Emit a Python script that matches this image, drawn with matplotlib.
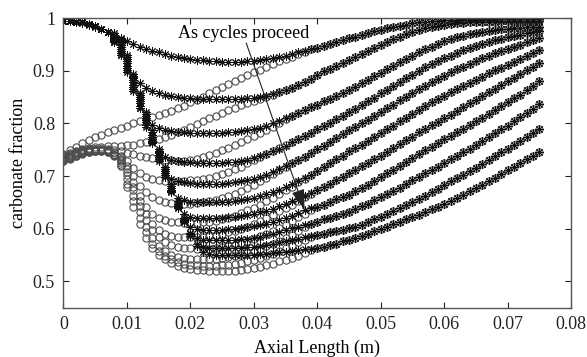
import matplotlib
matplotlib.use('Agg')
import matplotlib.pyplot as plt

plt.rcParams['font.family'] = ['Liberation Serif', 'DejaVu Serif']

# axial positions (m): first 40 (0..0.039) are the "head" region, last 36 (0.040..0.075) the shared "tail"
axial_pos = [0.000, 0.001, 0.002, 0.003, 0.004, 0.005, 0.006, 0.007, 0.008, 0.009,
             0.010, 0.011, 0.012, 0.013, 0.014, 0.015, 0.016, 0.017, 0.018, 0.019,
             0.020, 0.021, 0.022, 0.023, 0.024, 0.025, 0.026, 0.027, 0.028, 0.029,
             0.030, 0.031, 0.032, 0.033, 0.034, 0.035, 0.036, 0.037, 0.038, 0.039,
             0.040, 0.041, 0.042, 0.043, 0.044, 0.045, 0.046, 0.047, 0.048, 0.049,
             0.050, 0.051, 0.052, 0.053, 0.054, 0.055, 0.056, 0.057, 0.058, 0.059,
             0.060, 0.061, 0.062, 0.063, 0.064, 0.065, 0.066, 0.067, 0.068, 0.069,
             0.070, 0.071, 0.072, 0.073, 0.074, 0.075]

# asterisk series (x = 0 .. 0.039)
ast_1 = [.995, .995, .993, .991, .988, .984, .979, .973, .967, .961, .956, .951, .946, .942, .938, .935, .932, .929, .926, .924,
         .922, .921, .920, .919, .918, .917, .917, .917, .917, .918, .919, .920, .922, .924, .926, .929, .932, .935, .938, .941]
ast_2 = [.995, .995, .993, .992, .989, .985, .980, .973, .955, .930, .905, .888, .876, .868, .862, .858, .855, .852, .850, .849,
         .848, .847, .847, .846, .846, .846, .846, .846, .847, .848, .849, .851, .853, .856, .859, .863, .868, .873, .879, .885]
ast_3 = [.995, .995, .993, .992, .989, .985, .980, .973, .955, .930, .898, .862, .830, .810, .798, .791, .787, .785, .784, .783,
         .782, .782, .782, .782, .782, .782, .783, .784, .785, .787, .789, .792, .796, .800, .805, .810, .815, .820, .826, .831]
ast_4 = [.995, .995, .993, .992, .989, .985, .980, .973, .957, .934, .902, .866, .830, .794, .764, .746, .737, .731, .728, .727,
         .726, .725, .725, .725, .725, .725, .726, .727, .729, .731, .734, .738, .742, .747, .752, .758, .764, .770, .776, .782]
ast_5 = [.995, .995, .993, .992, .989, .985, .980, .973, .959, .938, .906, .870, .834, .798, .763, .728, .705, .695, .690, .688,
         .687, .686, .686, .686, .686, .686, .687, .688, .690, .692, .695, .698, .702, .707, .713, .719, .725, .731, .737, .744]
ast_6 = [.995, .995, .993, .992, .989, .985, .980, .973, .961, .942, .910, .874, .838, .802, .767, .732, .698, .671, .659, .654,
         .651, .650, .650, .650, .650, .650, .651, .652, .654, .656, .659, .662, .666, .670, .674, .679, .685, .691, .697, .703]
ast_7 = [.995, .995, .993, .992, .989, .985, .980, .973, .963, .946, .914, .878, .842, .806, .771, .736, .702, .669, .641, .628,
         .623, .621, .621, .621, .621, .621, .622, .623, .624, .626, .628, .631, .634, .638, .643, .648, .652, .657, .663, .668]
ast_8 = [.995, .995, .993, .992, .989, .985, .980, .973, .965, .950, .918, .882, .846, .810, .775, .740, .706, .673, .640, .614,
         .603, .599, .598, .598, .598, .598, .599, .600, .601, .603, .605, .607, .610, .613, .617, .621, .625, .630, .635, .639]
ast_9 = [.995, .995, .993, .992, .989, .985, .980, .973, .967, .954, .922, .886, .850, .814, .779, .744, .710, .677, .644, .612,
         .590, .582, .579, .578, .578, .578, .578, .579, .580, .581, .583, .585, .588, .591, .594, .597, .601, .604, .607, .610]
ast_10 = [.995, .995, .993, .992, .989, .985, .980, .973, .969, .958, .926, .890, .854, .818, .783, .748, .714, .681, .648, .617,
          .586, .571, .566, .563, .563, .563, .563, .563, .564, .565, .566, .568, .570, .572, .574, .576, .579, .581, .584, .586]
ast_11 = [.995, .995, .993, .992, .989, .985, .980, .973, .971, .962, .930, .894, .858, .822, .787, .752, .718, .685, .652, .621,
          .592, .567, .556, .552, .550, .550, .550, .550, .550, .551, .551, .552, .553, .554, .555, .556, .558, .559, .561, .562]

# circle series (x = 0 .. 0.039)
circ_1 = [.742, .749, .755, .762, .768, .774, .779, .784, .788, .792, .796, .800, .804, .808, .812, .816, .820, .824, .829, .834,
          .840, .845, .851, .857, .863, .869, .875, .881, .886, .892, .897, .902, .908, .913, .918, .922, .927, .932, .936, .941]
circ_2 = [.740, .744, .748, .751, .753, .755, .756, .757, .757, .758, .759, .760, .762, .765, .768, .771, .774, .778, .783, .788,
          .794, .799, .804, .810, .815, .820, .825, .830, .835, .839, .843, .847, .851, .855, .859, .863, .868, .873, .879, .885]
circ_3 = [.738, .742, .746, .749, .751, .752, .752, .751, .749, .747, .744, .742, .739, .736, .734, .732, .731, .730, .729, .729,
          .731, .733, .736, .740, .744, .749, .754, .759, .764, .770, .776, .782, .788, .794, .801, .808, .815, .820, .826, .831]
circ_4 = [.736, .741, .745, .749, .751, .752, .752, .750, .745, .739, .728, .716, .706, .699, .695, .692, .691, .690, .690, .690,
          .692, .693, .695, .697, .700, .704, .708, .713, .718, .724, .730, .736, .742, .748, .753, .759, .764, .770, .776, .782]
circ_5 = [.735, .740, .744, .748, .750, .751, .751, .749, .743, .736, .720, .700, .682, .669, .660, .655, .651, .649, .648, .648,
          .648, .649, .650, .652, .655, .658, .662, .667, .672, .678, .684, .691, .697, .704, .711, .718, .725, .731, .737, .744]
circ_6 = [.734, .739, .743, .747, .749, .750, .750, .748, .741, .733, .714, .688, .662, .641, .628, .620, .616, .613, .612, .611,
          .611, .611, .612, .613, .615, .618, .621, .625, .630, .635, .640, .646, .653, .659, .666, .673, .680, .688, .695, .703]
circ_7 = [.732, .737, .742, .746, .748, .749, .749, .747, .740, .730, .708, .680, .652, .628, .610, .598, .591, .587, .585, .584,
          .584, .584, .585, .586, .587, .590, .593, .596, .600, .604, .609, .614, .620, .626, .633, .640, .646, .653, .660, .667]
circ_8 = [.731, .736, .741, .745, .747, .748, .749, .747, .740, .728, .703, .673, .644, .617, .598, .584, .575, .569, .566, .564,
          .563, .562, .562, .562, .563, .565, .567, .570, .573, .577, .581, .586, .591, .596, .602, .608, .615, .622, .629, .636]
circ_9 = [.730, .735, .740, .744, .747, .748, .749, .747, .740, .725, .695, .663, .632, .604, .583, .568, .558, .551, .547, .545,
          .543, .543, .542, .542, .543, .544, .546, .548, .551, .554, .558, .562, .567, .572, .577, .582, .588, .596, .603, .609]
circ_10 = [.729, .734, .739, .743, .746, .747, .748, .746, .740, .722, .686, .652, .620, .593, .572, .558, .549, .542, .537, .534,
           .532, .531, .530, .530, .530, .531, .532, .533, .535, .538, .541, .545, .549, .553, .558, .563, .568, .574, .579, .584]
circ_11 = [.728, .733, .738, .742, .745, .747, .748, .746, .738, .719, .679, .642, .609, .583, .564, .551, .542, .535, .530, .526,
           .524, .522, .521, .520, .519, .519, .519, .520, .521, .523, .525, .528, .531, .534, .538, .541, .545, .549, .554, .559]

# shared values where asterisks and circles coincide (x = 0.040 .. 0.075)
tail_1 = [.944, .948, .951, .955, .959, .962, .965, .969, .972, .975, .978, .981, .984, .986, .988, .990, .992, .993,
          .994, .995, .996, .997, .997, .998, .998, .998, .999, .999, .999, .999, .999, .999, .999, .999, .999, .999]
tail_2 = [.893, .899, .904, .909, .915, .920, .926, .932, .938, .944, .950, .955, .960, .965, .970, .974, .978, .981,
          .984, .986, .988, .989, .990, .991, .992, .992, .993, .993, .993, .994, .994, .994, .994, .994, .994, .994]
tail_3 = [.836, .842, .847, .852, .858, .864, .870, .876, .883, .890, .896, .903, .910, .916, .923, .929, .935, .941,
          .946, .951, .956, .960, .964, .967, .970, .972, .974, .976, .978, .979, .980, .981, .982, .983, .983, .984]
tail_4 = [.789, .795, .801, .808, .814, .821, .828, .835, .842, .849, .857, .864, .871, .879, .886, .893, .900, .907,
          .913, .919, .924, .929, .934, .939, .943, .947, .951, .954, .958, .961, .964, .966, .969, .971, .973, .975]
tail_5 = [.751, .758, .765, .773, .780, .787, .794, .800, .807, .814, .822, .829, .836, .844, .851, .858, .865, .872,
          .879, .885, .891, .897, .903, .908, .913, .918, .924, .929, .933, .938, .942, .946, .950, .954, .958, .962]
tail_6 = [.710, .717, .724, .732, .739, .747, .754, .760, .767, .774, .782, .789, .796, .804, .811, .818, .826, .833,
          .840, .846, .853, .859, .865, .871, .877, .883, .889, .895, .901, .906, .911, .917, .922, .928, .934, .940]
tail_7 = [.673, .679, .686, .693, .699, .706, .712, .719, .725, .732, .739, .746, .753, .761, .768, .775, .783, .790,
          .797, .803, .810, .817, .824, .831, .838, .845, .852, .859, .866, .873, .880, .887, .894, .901, .908, .915]
tail_8 = [.642, .646, .651, .656, .660, .665, .671, .677, .684, .691, .698, .705, .712, .720, .727, .734, .742, .749,
          .756, .763, .770, .777, .783, .790, .797, .804, .811, .818, .826, .833, .840, .848, .855, .863, .871, .880]
tail_9 = [.613, .618, .621, .625, .628, .632, .637, .643, .648, .654, .660, .666, .672, .678, .685, .692, .698, .705,
          .712, .718, .725, .732, .738, .745, .752, .760, .767, .774, .782, .789, .796, .804, .812, .820, .828, .837]
tail_10 = [.588, .590, .593, .596, .598, .601, .604, .608, .613, .618, .623, .628, .633, .639, .645, .651, .657, .663,
           .670, .676, .683, .690, .696, .703, .710, .716, .723, .730, .738, .745, .752, .760, .767, .775, .782, .790]
tail_11 = [.564, .566, .569, .572, .576, .579, .583, .587, .591, .595, .599, .604, .609, .613, .618, .623, .627, .632,
           .637, .642, .647, .653, .659, .665, .671, .677, .684, .691, .697, .704, .711, .718, .725, .732, .739, .746]

ast_heads = [ast_1, ast_2, ast_3, ast_4, ast_5, ast_6, ast_7, ast_8, ast_9, ast_10, ast_11]
circ_heads = [circ_1, circ_2, circ_3, circ_4, circ_5, circ_6, circ_7, circ_8, circ_9, circ_10, circ_11]
tails = [tail_1, tail_2, tail_3, tail_4, tail_5, tail_6, tail_7, tail_8, tail_9, tail_10, tail_11]

x_ticks = [0, 0.01, 0.02, 0.03, 0.04, 0.05, 0.06, 0.07, 0.08]
x_tick_labels = ['0', '0.01', '0.02', '0.03', '0.04', '0.05', '0.06', '0.07', '0.08']
y_ticks = [0.5, 0.6, 0.7, 0.8, 0.9, 1.0]
y_tick_labels = ['0.5', '0.6', '0.7', '0.8', '0.9', '1']

fig = plt.figure(figsize=(5.87, 3.57), dpi=100)
ax = fig.add_axes([0.108, 0.138, 0.865, 0.811])

for head, tail in zip(circ_heads, tails):
    ax.plot(axial_pos, head + tail, ls='none', marker='o', ms=5.2,
            mfc='none', mec='#4d4d4d', mew=0.8)
for head, tail in zip(ast_heads, tails):
    ax.plot(axial_pos, head + tail, ls='none', marker=(8, 2, 0), ms=6,
            mec='#111111', mfc='#111111', mew=0.7)

ax.annotate('', xy=(0.038, 0.636), xytext=(0.0288, 0.953),
            arrowprops=dict(arrowstyle='-|>,head_length=0.7,head_width=0.22',
                            color='#222222', lw=0.8, mutation_scale=18,
                            shrinkA=0, shrinkB=0))
ax.text(0.018, 0.9626, 'As cycles proceed', fontsize=13, va='baseline')

ax.set_xlim(0, 0.08)
ax.set_ylim(0.45, 1.0)
ax.set_xticks(x_ticks)
ax.set_xticklabels(x_tick_labels)
ax.set_yticks(y_ticks)
ax.set_yticklabels(y_tick_labels)
ax.tick_params(direction='in', top=True, right=True, length=4, width=0.8,
               labelsize=13, colors='#222222', pad=6)
for s in ax.spines.values():
    s.set_color('#555555')
    s.set_linewidth(1.0)
ax.set_xlabel('Axial Length (m)', fontsize=13, labelpad=5)
ax.set_ylabel('carbonate fraction', fontsize=13, labelpad=4)

fig.savefig('out.png', dpi=100)
